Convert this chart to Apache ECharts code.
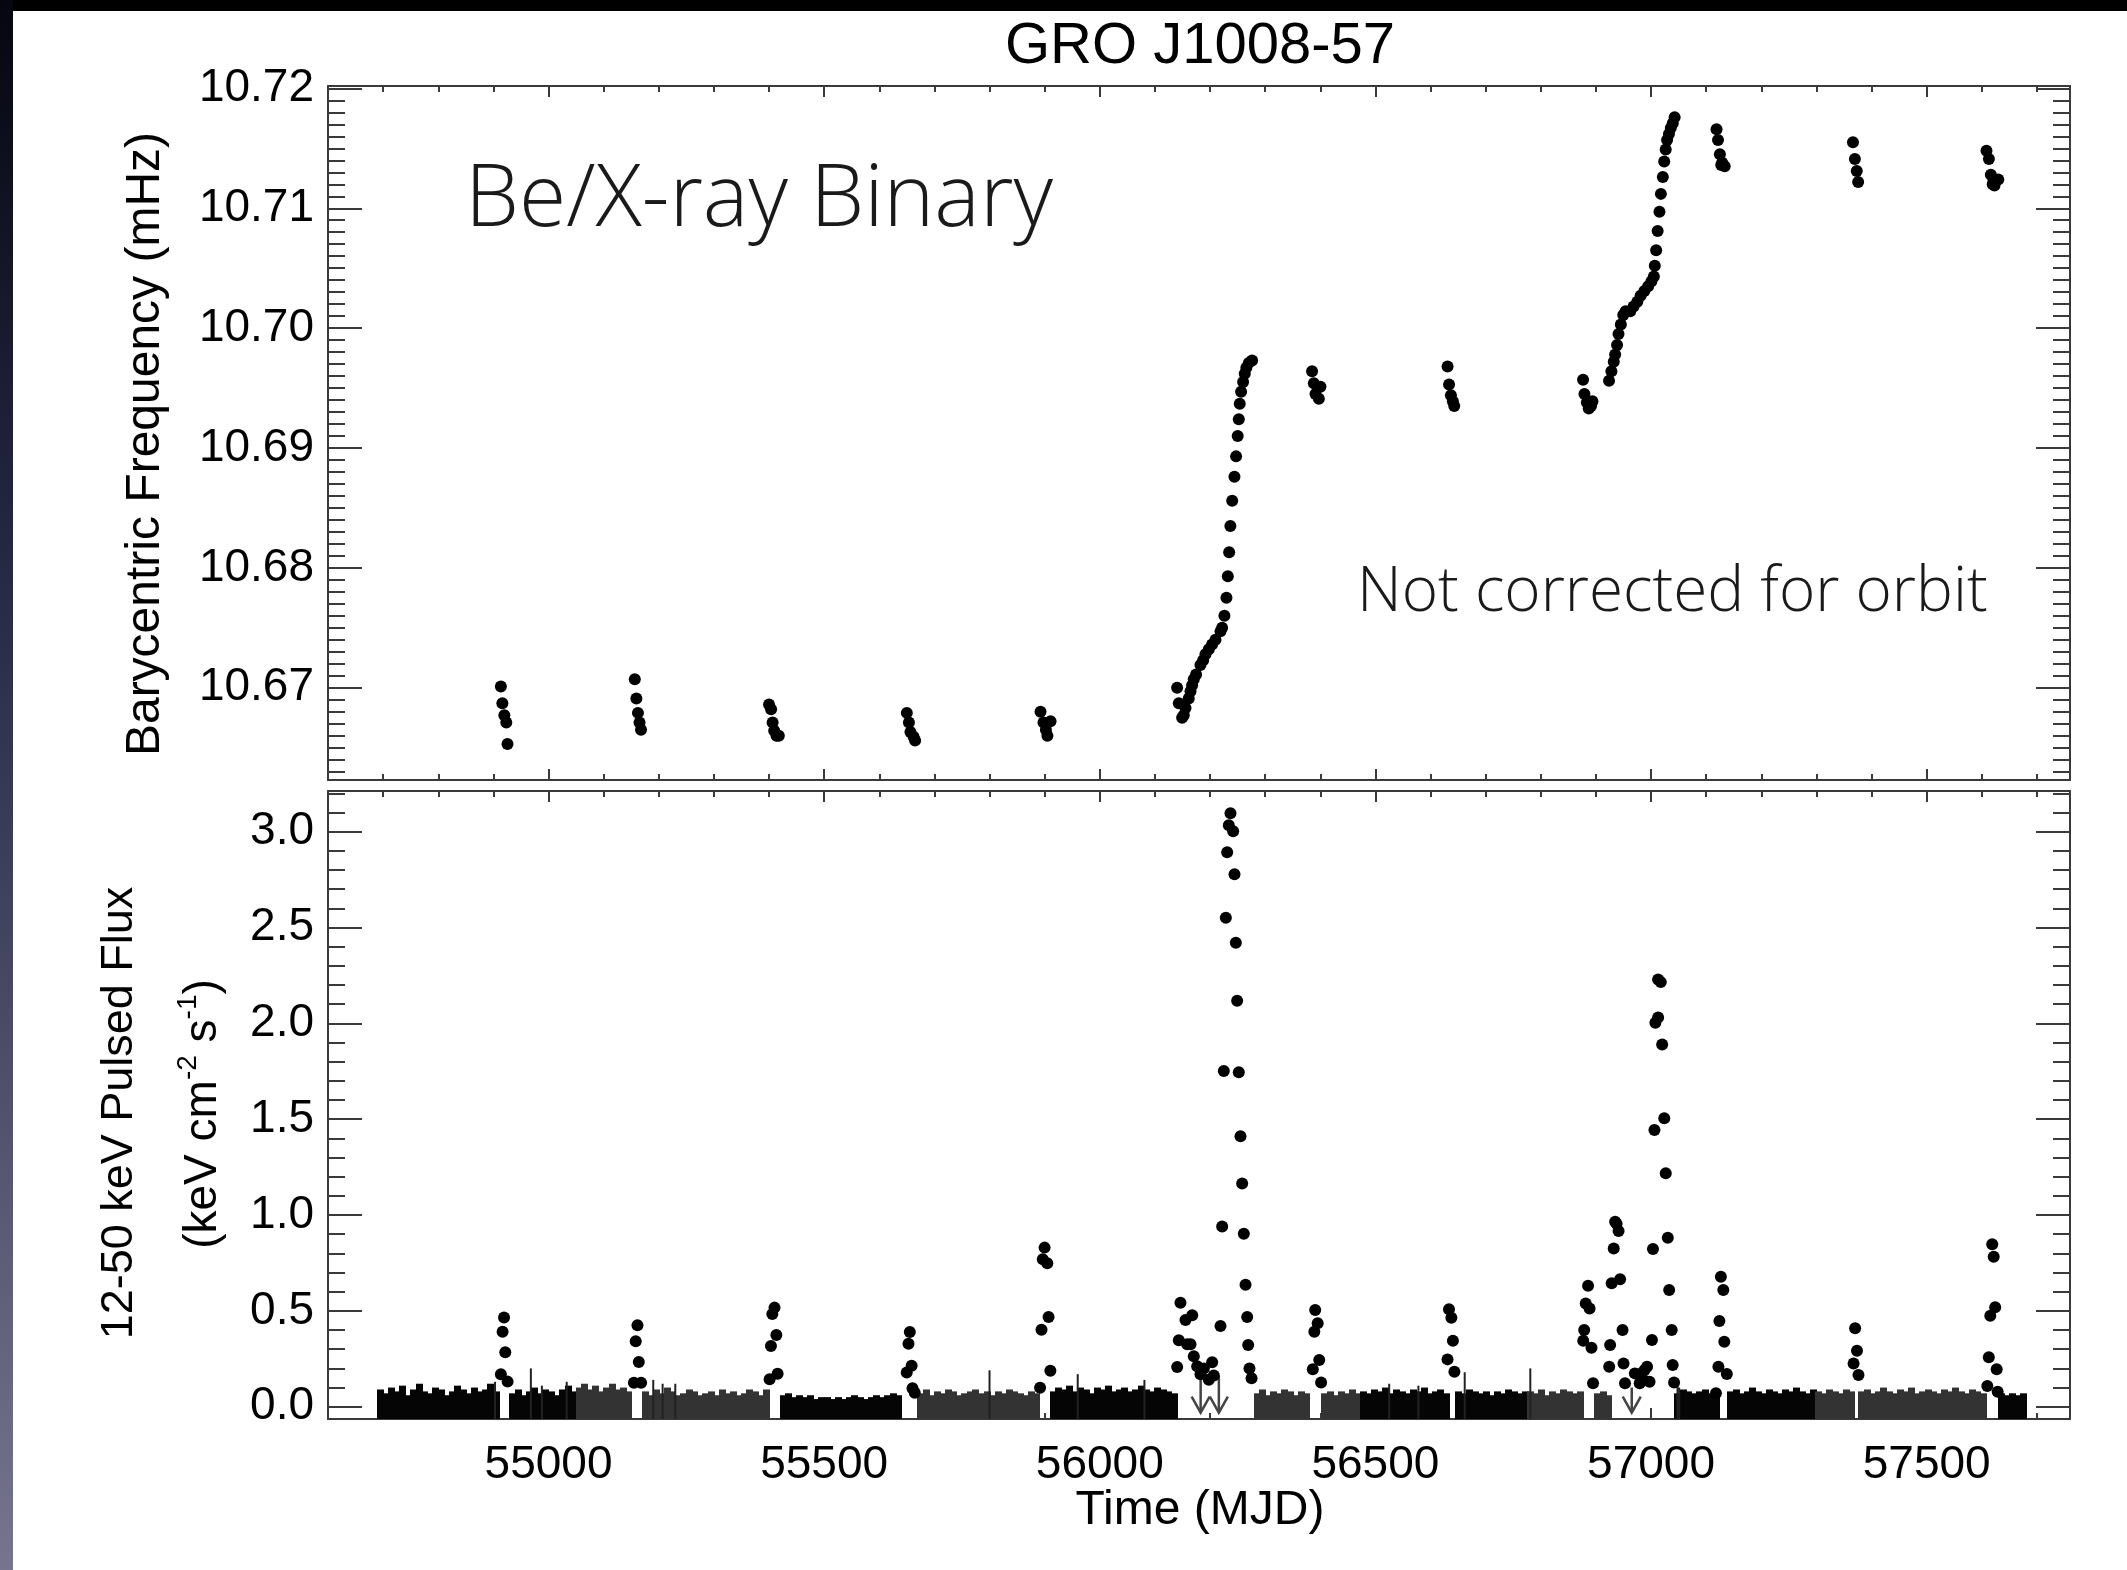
<!DOCTYPE html>
<html><head><meta charset="utf-8">
<script src="https://cdn.jsdelivr.net/npm/echarts@6/dist/echarts.min.js"></script>
<style>html,body{margin:0;padding:0;background:#fff}#c{width:2127px;height:1570px}</style>
</head><body><div id="c"></div>
<script>
// ---------------- DATA ----------------
const chartTitle = 'GRO J1008-57';
const xRange = [54600, 57760];
const freqRange = [10.6623, 10.7202];
const fluxRange = [-0.064, 3.212];
const xTickValues = [55000, 55500, 56000, 56500, 57000, 57500];
const freqTickValues = [10.67, 10.68, 10.69, 10.70, 10.71, 10.72];
const fluxTickValues = [0.0, 0.5, 1.0, 1.5, 2.0, 2.5, 3.0];

// Barycentric frequency (MJD, mHz)
const freqPoints = [
  [54913.6,10.6701],[54916.3,10.6687],[54919.9,10.6677],[54923.4,10.6671],[54925.6,10.6653],
  [55156.5,10.6707],[55159.4,10.6691],[55162.2,10.6679],[55165.1,10.6671],[55167.8,10.6665],
  [55400.0,10.6686],[55403.8,10.6682],[55406.5,10.6671],[55409.4,10.6664],[55413.6,10.6660],[55417.8,10.6660],
  [55650.0,10.6679],[55653.8,10.6671],[55656.5,10.6663],[55662.2,10.6659],[55665.0,10.6656],
  [55892.5,10.6680],[55897.9,10.6671],[55910.7,10.6672],[55902.3,10.6665],[55905.0,10.6660],
  [56140.3,10.6700],[56143.4,10.6687],[56149.4,10.6675],[56152.3,10.6677],[56155.5,10.6683],[56161.4,10.6691],
  [56164.6,10.6697],[56167.5,10.6702],[56170.5,10.6707],[56174.7,10.6711],[56182.6,10.6719],[56187.5,10.6723],
  [56191.7,10.6728],[56197.8,10.6732],[56203.7,10.6736],[56209.9,10.6740],[56219.0,10.6747],[56221.9,10.6750],
  [56226.1,10.6760],[56229.8,10.6775],[56232.3,10.6793],[56234.7,10.6813],[56236.9,10.6835],[56240.2,10.6856],
  [56244.3,10.6876],[56247.3,10.6893],[56250.2,10.6910],[56252.2,10.6924],[56253.9,10.6937],[56256.4,10.6947],
  [56260.0,10.6955],[56263.0,10.6962],[56265.9,10.6967],[56270.4,10.6971],[56276.3,10.6973],
  [56385.1,10.6964],[56388.3,10.6954],[56400.3,10.6951],[56391.3,10.6945],[56397.4,10.6941],
  [56630.9,10.6968],[56633.6,10.6953],[56637.0,10.6944],[56640.5,10.6939],[56643.0,10.6935],
  [56876.7,10.6957],[56879.2,10.6945],[56883.6,10.6938],[56887.0,10.6933],[56893.7,10.6939],[56891.2,10.6935],
  [56923.8,10.6956],[56928.1,10.6964],[56932.4,10.6972],[56934.9,10.6978],[56938.4,10.6986],[56941.0,10.6995],
  [56945.2,10.7003],[56949.6,10.7011],[56953.8,10.7014],[56962.3,10.7014],[56968.3,10.7018],[56975.1,10.7022],
  [56981.1,10.7027],[56987.9,10.7031],[56994.8,10.7035],[57000.7,10.7039],[57005.1,10.7043],[57006.8,10.7052],
  [57009.3,10.7065],[57012.0,10.7081],[57015.3,10.7097],[57017.9,10.7112],[57021.4,10.7126],[57023.9,10.7139],
  [57026.6,10.7149],[57029.1,10.7157],[57032.5,10.7162],[57035.9,10.7167],[57039.4,10.7171],[57042.8,10.7176],
  [57118.8,10.7166],[57121.5,10.7157],[57124.9,10.7145],[57129.1,10.7138],[57133.6,10.7135],[57127.4,10.7136],
  [57366.3,10.7155],[57369.8,10.7141],[57373.2,10.7131],[57375.7,10.7122],
  [57608.5,10.7148],[57612.9,10.7141],[57616.4,10.7128],[57621.3,10.7123],[57629.9,10.7124],[57623.0,10.7119],[57619.8,10.7120]
];

// 12-50 keV pulsed flux detections (MJD, keV cm^-2 s^-1)
const fluxPoints = [
  [54919.3,0.466],[54916.7,0.391],[54921.6,0.284],[54913.6,0.169],[54925.8,0.131],
  [55161.4,0.425],[55158.2,0.341],[55163.8,0.233],[55154.9,0.125],[55168.0,0.125],
  [55410.0,0.517],[55406.0,0.484],[55413.3,0.374],[55403.5,0.317],[55415.6,0.172],[55401.1,0.143],
  [55655.4,0.390],[55653.0,0.329],[55658.7,0.214],[55649.8,0.179],[55660.3,0.096],[55664.3,0.073],
  [55899.9,0.830],[55896.6,0.769],[55904.8,0.748],[55907.1,0.468],[55894.3,0.402],[55910.4,0.188],[55891.7,0.099],
  [56146.4,0.542],[56167.7,0.477],[56155.5,0.452],[56143.4,0.347],[56158.6,0.326],[56164.6,0.326],[56170.6,0.263],
  [56140.4,0.207],[56176.7,0.211],[56188.8,0.200],[56203.9,0.232],[56206.9,0.163],[56182.7,0.169],[56197.8,0.141],
  [56237.1,3.096],[56234.1,3.033],[56242.0,3.002],[56231.1,2.893],[56244.4,2.778],[56228.7,2.551],[56246.8,2.421],
  [56249.2,2.118],[56225.0,1.751],[56252.2,1.745],[56255.3,1.411],[56258.3,1.164],[56222.0,0.940],[56261.3,0.902],
  [56264.4,0.636],[56267.4,0.468],[56219.0,0.421],[56269.2,0.322],[56271.6,0.200],[56275.3,0.148],
  [56390.8,0.505],[56395.3,0.435],[56389.2,0.391],[56398.1,0.244],[56386.4,0.195],[56401.5,0.127],
  [56633.5,0.508],[56637.8,0.464],[56640.6,0.344],[56630.8,0.247],[56643.3,0.183],
  [56885.8,0.631],[56881.5,0.539],[56888.5,0.513],[56878.7,0.400],[56877.0,0.344],[56892.0,0.308],[56894.8,0.122],
  [56925.8,0.322],[56924.1,0.209],[56950.1,0.226],[56952.8,0.122],[56934.9,0.965],[56937.5,0.955],[56941.1,0.917],
  [56932.3,0.826],[56928.6,0.644],[56943.9,0.665],[56948.3,0.400],[56970.6,0.174],[56979.5,0.171],[56988.3,0.191],
  [56992.8,0.209],[56979.5,0.122],[56984.0,0.148],[56997.3,0.130],[57001.7,0.348],[57003.5,0.823],[57006.2,1.444],
  [57024.0,1.505],[57026.7,1.218],[57030.4,0.882],[57032.9,0.609],[57037.5,0.400],[57039.3,0.218],[57041.8,0.127],
  [57012.8,2.229],[57017.7,2.215],[57012.8,2.031],[57007.9,2.003],[57020.2,1.890],
  [57126.7,0.678],[57131.1,0.609],[57124.0,0.447],[57132.9,0.339],[57122.2,0.209],[57137.5,0.171],[57117.7,0.070],
  [57370.2,0.409],[57373.6,0.292],[57367.4,0.226],[57376.3,0.165],
  [57618.9,0.847],[57621.6,0.783],[57624.3,0.519],[57615.4,0.475],[57612.7,0.258],[57627.0,0.195],[57610.0,0.108],[57628.8,0.078]
];

// Quiescent light-curve band: 10-day bins, upper envelope of the daily error bars.
// set: 0 = darker points, 1 = lighter (grey) points
const bandBinDays = 10;
const bandSegments = [
  {start:54690, set:0, tops:[0.09,0.07,0.10,0.08,0.11,0.06,0.09,0.12,0.08,0.07,0.10,0.09,0.06,0.08,0.11,0.09,0.07,0.10,0.08,0.09,0.12,0.08]},
  {start:54930, set:0, tops:[0.07,0.09,0.06,0.08,0.10,0.07,0.09,0.08,0.06,0.09,0.11,0.08]},
  {start:55050, set:1, tops:[0.10,0.12,0.09,0.11,0.08,0.10,0.12,0.09,0.10,0.08]},
  {start:55170, set:1, tops:[0.08,0.06,0.09,0.07,0.10,0.08,0.06,0.07,0.09,0.08,0.06,0.07,0.08,0.06,0.09,0.07,0.08,0.06,0.07,0.09,0.08,0.06,0.09]},
  {start:55420, set:0, tops:[0.06,0.07,0.05,0.06,0.05,0.06,0.04,0.05,0.05,0.04,0.05,0.04,0.05,0.06,0.05,0.04,0.05,0.06,0.05,0.06,0.07,0.06]},
  {start:55670, set:1, tops:[0.07,0.09,0.06,0.08,0.07,0.09,0.08,0.06,0.07,0.08,0.09,0.07,0.08,0.06,0.08,0.07,0.09,0.08,0.07,0.06,0.08,0.07]},
  {start:55910, set:0, tops:[0.08,0.10,0.09,0.11,0.08,0.10,0.09,0.07,0.10,0.09,0.11,0.08,0.09,0.10,0.08,0.09,0.11,0.09,0.08,0.10,0.09,0.08,0.07]},
  {start:56280, set:1, tops:[0.07,0.09,0.06,0.08,0.07,0.09,0.08,0.06,0.08,0.07]},
  {start:56403, set:1, tops:[0.07,0.08,0.06,0.08,0.07,0.09,0.07]},
  {start:56473, set:0, tops:[0.08,0.07,0.09,0.08,0.10,0.07,0.09,0.08,0.07,0.09,0.08,0.10,0.07,0.08,0.09,0.07]},
  {start:56646, set:0, tops:[0.08,0.07,0.09,0.08,0.07,0.08,0.06,0.08,0.07,0.09,0.08,0.07,0.08]},
  {start:56776, set:1, tops:[0.08,0.07,0.09,0.06,0.08,0.07,0.09,0.08,0.07,0.08]},
  {start:56898, set:1, tops:[0.07,0.08,0.06]},
  {start:57043, set:0, tops:[0.07,0.09,0.08,0.07,0.08,0.09,0.07,0.08]},
  {start:57139, set:0, tops:[0.08,0.09,0.07,0.08,0.10,0.08,0.07,0.09,0.08,0.07,0.09,0.08,0.10,0.08,0.07,0.09]},
  {start:57299, set:1, tops:[0.08,0.07,0.09,0.08,0.07,0.09,0.08]},
  {start:57377, set:1, tops:[0.08,0.09,0.07,0.08,0.10,0.08,0.07,0.09,0.08,0.10,0.07,0.08,0.09,0.08,0.07,0.09,0.08,0.10,0.08,0.07,0.09,0.08,0.07]},
  {start:57631, set:0, tops:[0.07,0.06,0.07,0.06,0.07]}
];
// isolated tall error bars (MJD, top)
const bandSpikes = [[54903,0.13],[54968,0.20],[54988,0.11],[55033,0.13],[55190,0.14],[55207,0.12],[55230,0.12],
  [55800,0.19],[55960,0.17],[56081,0.14],[56525,0.12],[56578,0.11],[56662,0.18],[56781,0.20],[57048,0.12],[57051,0.10]];
// upper limits (MJD, value)
const upperLimits = [[56183,0.19],[56216,0.16],[56965,0.10]];

// ---------------- CHART ----------------
const FONT = "'Liberation Sans', Arial, Helvetica, sans-serif";
const LIGHT = "'Open Sans', Roboto, " + FONT;
const AX = '#3a3a3a';
const G0 = {left:328, top:86, width:1742, height:694};
const G1 = {left:328, top:791, width:1742, height:628};

function range(a, b, step) { const out = []; for (let v = a; v <= b + step*1e-6; v += step) out.push(+v.toFixed(6)); return out; }
const xMinor = range(54600, 57700, 100);
const freqMinor = range(10.663, 10.720, 0.001);
const fluxMinor = range(0.0, 3.2, 0.1);

function xAx(grid, pos, ticks, len, labels, line) {
  return {type:'value', gridIndex:grid, position:pos, min:xRange[0], max:xRange[1],
    axisLine:{show:line, onZero:false, lineStyle:{color:AX, width:2}},
    axisTick:{show:true, inside:true, length:len, customValues:ticks, lineStyle:{color:AX, width:2}},
    axisLabel:{show:labels, customValues:xTickValues, margin:23, fontSize:46, color:'#000', fontFamily:FONT, formatter:v=>String(Math.round(v))},
    splitLine:{show:false}};
}
function yAx(grid, pos, rng, ticks, len, labels, line, lblVals, dec) {
  return {type:'value', gridIndex:grid, position:pos, min:rng[0], max:rng[1],
    axisLine:{show:line, onZero:false, lineStyle:{color:AX, width:2}},
    axisTick:{show:true, inside:true, length:len, customValues:ticks, lineStyle:{color:AX, width:2}},
    axisLabel:{show:labels, customValues:lblVals, margin:14, fontSize:46, color:'#000', fontFamily:FONT, formatter:v=>v.toFixed(dec)},
    splitLine:{show:false}};
}

const xAxes = [
  xAx(0,'bottom',xTickValues,11,false,true), xAx(0,'bottom',xMinor,6,false,false),
  xAx(0,'top',xTickValues,11,false,true),    xAx(0,'top',xMinor,6,false,false),
  xAx(1,'bottom',xTickValues,11,true,true),  xAx(1,'bottom',xMinor,6,false,false),
  xAx(1,'top',xTickValues,11,false,true),    xAx(1,'top',xMinor,6,false,false)
];
const yAxes = [
  yAx(0,'left',freqRange,freqTickValues,34,true,true,freqTickValues,2), yAx(0,'left',freqRange,freqMinor,17,false,false,freqTickValues,2),
  yAx(0,'right',freqRange,freqTickValues,34,false,true,freqTickValues,2), yAx(0,'right',freqRange,freqMinor,17,false,false,freqTickValues,2),
  yAx(1,'left',fluxRange,fluxTickValues,34,true,true,fluxTickValues,1), yAx(1,'left',fluxRange,fluxMinor,17,false,false,fluxTickValues,1),
  yAx(1,'right',fluxRange,fluxTickValues,34,false,true,fluxTickValues,1), yAx(1,'right',fluxRange,fluxMinor,17,false,false,fluxTickValues,1)
];

const bandData = [];
bandSegments.forEach(seg => seg.tops.forEach((t, i) => {
  const s = seg.start + i*bandBinDays; bandData.push([s, s + bandBinDays, t, seg.set]);
}));

const chart = echarts.init(document.getElementById('c'), null, {renderer:'canvas'});
chart.setOption({
  animation:false,
  backgroundColor:'#ffffff',
  grid:[Object.assign({containLabel:false}, G0), Object.assign({containLabel:false}, G1)],
  xAxis:xAxes, yAxis:yAxes,
  series:[
    {type:'custom', name:'band', xAxisIndex:4, yAxisIndex:4, clip:true, z:1,
     encode:{x:[0,1], y:2}, data:bandData,
     renderItem:(p, api) => {
       const a = api.coord([api.value(0), api.value(2)]);
       const b = api.coord([api.value(1), fluxRange[0]]);
       return {type:'rect', shape:{x:Math.floor(a[0]), y:a[1], width:Math.ceil(b[0]-a[0])+1, height:b[1]-a[1]},
         style:{fill: api.value(3) ? '#333333' : '#050505'}};
     }},
    {type:'custom', name:'spikes', xAxisIndex:4, yAxisIndex:4, clip:true, z:1,
     encode:{x:0, y:1}, data:bandSpikes,
     renderItem:(p, api) => {
       const a = api.coord([api.value(0), api.value(1)]);
       const b = api.coord([api.value(0), fluxRange[0]]);
       return {type:'line', shape:{x1:a[0], y1:a[1], x2:b[0], y2:b[1]}, style:{stroke:'#222', lineWidth:2}};
     }},
    {type:'custom', name:'ul', xAxisIndex:4, yAxisIndex:4, clip:true, z:2,
     encode:{x:0, y:1}, data:upperLimits,
     renderItem:(p, api) => {
       const a = api.coord([api.value(0), api.value(1)]);
       const b = api.coord([api.value(0), 0]);
       return {type:'group', children:[
         {type:'line', shape:{x1:a[0], y1:a[1], x2:b[0], y2:b[1]+6}, style:{stroke:'#444', lineWidth:2.5}},
         {type:'polyline', shape:{points:[[b[0]-9, b[1]-10],[b[0], b[1]+6],[b[0]+9, b[1]-10]]}, style:{stroke:'#444', lineWidth:2.5, fill:null}}
       ]};
     }},
    {type:'scatter', name:'freq', xAxisIndex:0, yAxisIndex:0, data:freqPoints, symbol:'circle', symbolSize:12,
     itemStyle:{color:'#000', opacity:1}, z:5},
    {type:'scatter', name:'flux', xAxisIndex:4, yAxisIndex:4, data:fluxPoints, symbol:'circle', symbolSize:12,
     itemStyle:{color:'#000', opacity:1}, z:5}
  ],
  graphic:{elements:[
    {type:'rect', shape:{x:0, y:0, width:2127, height:11}, style:{fill:'#000'}, z:100},
    {type:'rect', shape:{x:0, y:0, width:13, height:1570}, z:100,
     style:{fill:new echarts.graphic.LinearGradient(0,0,0,1,[{offset:0,color:'#05060f'},{offset:0.4,color:'#2a2c4a'},{offset:1,color:'#76758d'}])}},
    {type:'text', x:1200, y:47, style:{text:chartTitle, font:'58px ' + FONT, fill:'#000', textAlign:'center', textVerticalAlign:'middle'}},
    {type:'text', x:465, y:201, style:{text:'Be/X-ray Binary', font:'300 86px ' + LIGHT, fill:'#1a1a1a', textAlign:'left', textVerticalAlign:'middle'}},
    {type:'text', x:1357, y:593, style:{text:'Not corrected for orbit', font:'300 62px ' + LIGHT, fill:'#1a1a1a', textAlign:'left', textVerticalAlign:'middle'}},
    {type:'text', x:1200, y:1511, style:{text:'Time (MJD)', font:'48px ' + FONT, fill:'#000', textAlign:'center', textVerticalAlign:'middle'}},
    {type:'text', x:146, y:444, rotation:Math.PI/2, style:{text:'Barycentric Frequency (mHz)', font:'48px ' + FONT, fill:'#000', textAlign:'center', textVerticalAlign:'middle'}},
    {type:'text', x:120, y:1113, rotation:Math.PI/2, style:{text:'12-50 keV Pulsed Flux', font:'45px ' + FONT, fill:'#000', textAlign:'center', textVerticalAlign:'middle'}},
    {type:'text', x:200, y:1114, rotation:Math.PI/2, style:{
      text:'{a|(keV cm}{s|-2}{a| s}{s|-1}{a|)}', textAlign:'center', textVerticalAlign:'middle',
      rich:{a:{fontSize:46, fontFamily:FONT, fill:'#000', color:'#000', verticalAlign:'bottom', lineHeight:52},
            s:{fontSize:28, fontFamily:FONT, fill:'#000', color:'#000', verticalAlign:'top', lineHeight:52}}}}
  ]}
});
</script></body></html>
